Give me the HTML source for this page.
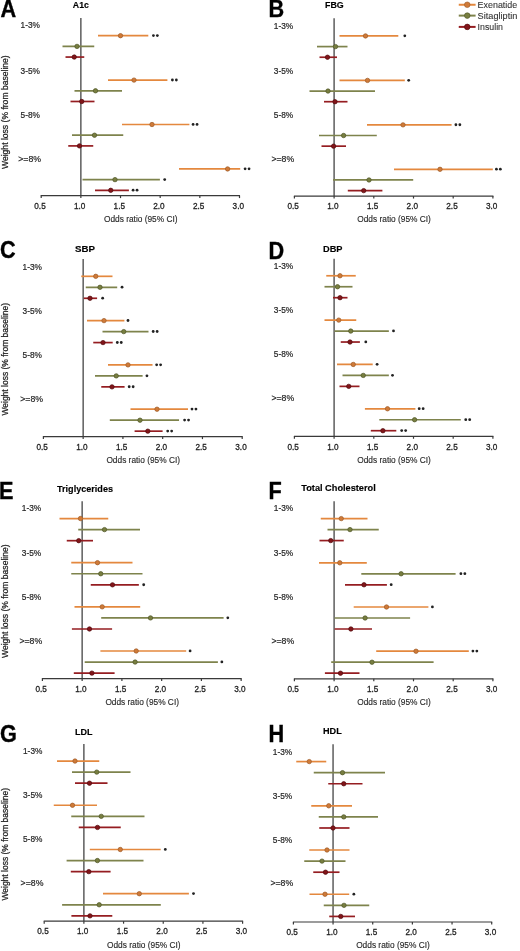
<!DOCTYPE html>
<html><head><meta charset="utf-8"><style>
html,body{margin:0;padding:0;background:#fff;}
svg{display:block;will-change:transform;}
text{font-family:"Liberation Sans", sans-serif;}
.let{font-size:22.6px;font-weight:bold;fill:#000;stroke:#000;stroke-width:0.35;}
.tit{font-size:9.6px;font-weight:bold;fill:#000;stroke:#000;stroke-width:0.15;}
.row{font-size:9.8px;fill:#262626;stroke:#262626;stroke-width:0.22;text-anchor:end;}
.yl{font-size:9.4px;fill:#222;stroke:#222;stroke-width:0.25;}
.tk{font-size:9.3px;fill:#222;stroke:#222;stroke-width:0.3;text-anchor:middle;}
.od{font-size:9px;fill:#2a2a2a;stroke:#2a2a2a;stroke-width:0.15;text-anchor:middle;}
.leg{font-size:9.6px;fill:#333;stroke:#333;stroke-width:0.1;}
.vl{stroke:#575757;stroke-width:1.45;}
.ax{stroke:#3a3a3a;stroke-width:1.2;}
.bar{stroke-width:1.7;}
</style></head><body>
<svg width="520" height="951" viewBox="0 0 520 951">
<text transform="translate(0.4,16.6) scale(0.96,1.065)" x="0" y="0" class="let">A</text>
<text x="72.8" y="8.25" class="tit" textLength="16.10" lengthAdjust="spacingAndGlyphs">A1c</text>
<text x="40.00" y="28.30" class="row" textLength="19.4" lengthAdjust="spacingAndGlyphs">1-3%</text>
<text x="40.00" y="73.80" class="row" textLength="19.4" lengthAdjust="spacingAndGlyphs">3-5%</text>
<text x="40.00" y="117.60" class="row" textLength="19.4" lengthAdjust="spacingAndGlyphs">5-8%</text>
<text x="41.00" y="162.10" class="row" textLength="22.8" lengthAdjust="spacingAndGlyphs">&gt;=8%</text>
<text transform="translate(7.8,169) rotate(-90)" x="0" y="0" class="yl" textLength="113.70" lengthAdjust="spacingAndGlyphs">Weight loss (% from baseline)</text>
<line x1="80.86" y1="18.0" x2="80.86" y2="195.6" class="vl"/>
<line x1="40.70" y1="195.6" x2="240.00" y2="195.6" class="ax"/>
<line x1="41.20" y1="195.6" x2="41.20" y2="198.1" class="ax"/>
<text x="40.00" y="208.80" class="tk" textLength="11.4" lengthAdjust="spacingAndGlyphs">0.5</text>
<line x1="80.86" y1="195.6" x2="80.86" y2="198.1" class="ax"/>
<text x="79.66" y="208.80" class="tk" textLength="11.4" lengthAdjust="spacingAndGlyphs">1.0</text>
<line x1="120.52" y1="195.6" x2="120.52" y2="198.1" class="ax"/>
<text x="119.32" y="208.80" class="tk" textLength="11.4" lengthAdjust="spacingAndGlyphs">1.5</text>
<line x1="160.18" y1="195.6" x2="160.18" y2="198.1" class="ax"/>
<text x="158.98" y="208.80" class="tk" textLength="11.4" lengthAdjust="spacingAndGlyphs">2.0</text>
<line x1="199.84" y1="195.6" x2="199.84" y2="198.1" class="ax"/>
<text x="198.64" y="208.80" class="tk" textLength="11.4" lengthAdjust="spacingAndGlyphs">2.5</text>
<line x1="239.50" y1="195.6" x2="239.50" y2="198.1" class="ax"/>
<text x="238.30" y="208.80" class="tk" textLength="11.4" lengthAdjust="spacingAndGlyphs">3.0</text>
<text x="140.75" y="222.00" class="od" textLength="73.6" lengthAdjust="spacingAndGlyphs">Odds ratio (95% CI)</text>
<line x1="98" y1="35.69" x2="148.3" y2="35.69" stroke="#E4883E" class="bar"/>
<circle cx="120.5" cy="35.69" r="2.2" fill="#CF7A38" stroke="#9C5A28" stroke-width="0.7"/>
<circle cx="153.40" cy="35.59" r="1.4" fill="#222"/>
<circle cx="157.35" cy="35.59" r="1.4" fill="#222"/>
<line x1="62.5" y1="46.38" x2="94.25" y2="46.38" stroke="#7E834C" class="bar"/>
<circle cx="77" cy="46.38" r="2.2" fill="#787E40" stroke="#4E5426" stroke-width="0.7"/>
<line x1="65.5" y1="57.06" x2="84.25" y2="57.06" stroke="#951D21" class="bar"/>
<circle cx="74.25" cy="57.06" r="2.2" fill="#821519" stroke="#500B0E" stroke-width="0.7"/>
<line x1="108" y1="80.1" x2="167.4" y2="80.1" stroke="#E4883E" class="bar"/>
<circle cx="134" cy="80.1" r="2.2" fill="#CF7A38" stroke="#9C5A28" stroke-width="0.7"/>
<circle cx="172.40" cy="80.00" r="1.4" fill="#222"/>
<circle cx="176.35" cy="80.00" r="1.4" fill="#222"/>
<line x1="74.5" y1="90.79" x2="122" y2="90.79" stroke="#7E834C" class="bar"/>
<circle cx="95.5" cy="90.79" r="2.2" fill="#787E40" stroke="#4E5426" stroke-width="0.7"/>
<line x1="70.5" y1="101.48" x2="94.5" y2="101.48" stroke="#951D21" class="bar"/>
<circle cx="81.75" cy="101.48" r="2.2" fill="#821519" stroke="#500B0E" stroke-width="0.7"/>
<line x1="122" y1="124.52" x2="189.4" y2="124.52" stroke="#E4883E" class="bar"/>
<circle cx="152" cy="124.52" r="2.2" fill="#CF7A38" stroke="#9C5A28" stroke-width="0.7"/>
<circle cx="193.10" cy="124.42" r="1.4" fill="#222"/>
<circle cx="197.05" cy="124.42" r="1.4" fill="#222"/>
<line x1="72" y1="135.21" x2="123.25" y2="135.21" stroke="#7E834C" class="bar"/>
<circle cx="94.5" cy="135.21" r="2.2" fill="#787E40" stroke="#4E5426" stroke-width="0.7"/>
<line x1="68.25" y1="145.9" x2="93.25" y2="145.9" stroke="#951D21" class="bar"/>
<circle cx="79.5" cy="145.9" r="2.2" fill="#821519" stroke="#500B0E" stroke-width="0.7"/>
<line x1="179" y1="168.94" x2="240.2" y2="168.94" stroke="#E4883E" class="bar"/>
<circle cx="227.6" cy="168.94" r="2.2" fill="#CF7A38" stroke="#9C5A28" stroke-width="0.7"/>
<circle cx="245.10" cy="168.84" r="1.4" fill="#222"/>
<circle cx="249.05" cy="168.84" r="1.4" fill="#222"/>
<line x1="82.5" y1="179.63" x2="159.9" y2="179.63" stroke="#7E834C" class="bar"/>
<circle cx="115" cy="179.63" r="2.2" fill="#787E40" stroke="#4E5426" stroke-width="0.7"/>
<circle cx="164.70" cy="179.53" r="1.4" fill="#222"/>
<line x1="95" y1="190.31" x2="128.9" y2="190.31" stroke="#951D21" class="bar"/>
<circle cx="110.75" cy="190.31" r="2.2" fill="#821519" stroke="#500B0E" stroke-width="0.7"/>
<circle cx="133.10" cy="190.21" r="1.4" fill="#222"/>
<circle cx="137.05" cy="190.21" r="1.4" fill="#222"/>
<text transform="translate(268.4,16.7) scale(0.96,1.065)" x="0" y="0" class="let">B</text>
<text x="325" y="8.25" class="tit" textLength="18.75" lengthAdjust="spacingAndGlyphs">FBG</text>
<text x="293.20" y="29.20" class="row" textLength="19.4" lengthAdjust="spacingAndGlyphs">1-3%</text>
<text x="293.20" y="73.80" class="row" textLength="19.4" lengthAdjust="spacingAndGlyphs">3-5%</text>
<text x="293.20" y="118.00" class="row" textLength="19.4" lengthAdjust="spacingAndGlyphs">5-8%</text>
<text x="294.20" y="161.60" class="row" textLength="22.8" lengthAdjust="spacingAndGlyphs">&gt;=8%</text>
<line x1="334.10" y1="18.3" x2="334.10" y2="196.05" class="vl"/>
<line x1="293.90" y1="196.05" x2="493.40" y2="196.05" class="ax"/>
<line x1="294.40" y1="196.05" x2="294.40" y2="198.55" class="ax"/>
<text x="293.20" y="209.25" class="tk" textLength="11.4" lengthAdjust="spacingAndGlyphs">0.5</text>
<line x1="334.10" y1="196.05" x2="334.10" y2="198.55" class="ax"/>
<text x="332.90" y="209.25" class="tk" textLength="11.4" lengthAdjust="spacingAndGlyphs">1.0</text>
<line x1="373.80" y1="196.05" x2="373.80" y2="198.55" class="ax"/>
<text x="372.60" y="209.25" class="tk" textLength="11.4" lengthAdjust="spacingAndGlyphs">1.5</text>
<line x1="413.50" y1="196.05" x2="413.50" y2="198.55" class="ax"/>
<text x="412.30" y="209.25" class="tk" textLength="11.4" lengthAdjust="spacingAndGlyphs">2.0</text>
<line x1="453.20" y1="196.05" x2="453.20" y2="198.55" class="ax"/>
<text x="452.00" y="209.25" class="tk" textLength="11.4" lengthAdjust="spacingAndGlyphs">2.5</text>
<line x1="492.90" y1="196.05" x2="492.90" y2="198.55" class="ax"/>
<text x="491.70" y="209.25" class="tk" textLength="11.4" lengthAdjust="spacingAndGlyphs">3.0</text>
<text x="394.05" y="222.45" class="od" textLength="73.6" lengthAdjust="spacingAndGlyphs">Odds ratio (95% CI)</text>
<line x1="339.5" y1="35.94" x2="398.3" y2="35.94" stroke="#E4883E" class="bar"/>
<circle cx="365.5" cy="35.94" r="2.2" fill="#CF7A38" stroke="#9C5A28" stroke-width="0.7"/>
<circle cx="404.80" cy="35.84" r="1.4" fill="#222"/>
<line x1="317" y1="46.59" x2="347.5" y2="46.59" stroke="#7E834C" class="bar"/>
<circle cx="335.5" cy="46.59" r="2.2" fill="#787E40" stroke="#4E5426" stroke-width="0.7"/>
<line x1="319.5" y1="57.24" x2="337" y2="57.24" stroke="#951D21" class="bar"/>
<circle cx="327.5" cy="57.24" r="2.2" fill="#821519" stroke="#500B0E" stroke-width="0.7"/>
<line x1="339.5" y1="80.4" x2="404.8" y2="80.4" stroke="#E4883E" class="bar"/>
<circle cx="367.5" cy="80.4" r="2.2" fill="#CF7A38" stroke="#9C5A28" stroke-width="0.7"/>
<circle cx="408.70" cy="80.30" r="1.4" fill="#222"/>
<line x1="309.5" y1="91.05" x2="375" y2="91.05" stroke="#7E834C" class="bar"/>
<circle cx="328" cy="91.05" r="2.2" fill="#787E40" stroke="#4E5426" stroke-width="0.7"/>
<line x1="324" y1="101.7" x2="347.5" y2="101.7" stroke="#951D21" class="bar"/>
<circle cx="335" cy="101.7" r="2.2" fill="#821519" stroke="#500B0E" stroke-width="0.7"/>
<line x1="367" y1="124.86" x2="451.6" y2="124.86" stroke="#E4883E" class="bar"/>
<circle cx="403" cy="124.86" r="2.2" fill="#CF7A38" stroke="#9C5A28" stroke-width="0.7"/>
<circle cx="455.90" cy="124.76" r="1.4" fill="#222"/>
<circle cx="459.85" cy="124.76" r="1.4" fill="#222"/>
<line x1="319" y1="135.51" x2="376.8" y2="135.51" stroke="#7E834C" class="bar"/>
<circle cx="343.6" cy="135.51" r="2.2" fill="#787E40" stroke="#4E5426" stroke-width="0.7"/>
<line x1="321.5" y1="146.16" x2="346" y2="146.16" stroke="#951D21" class="bar"/>
<circle cx="333.6" cy="146.16" r="2.2" fill="#821519" stroke="#500B0E" stroke-width="0.7"/>
<line x1="394" y1="169.32" x2="492.8" y2="169.32" stroke="#E4883E" class="bar"/>
<circle cx="440" cy="169.32" r="2.2" fill="#CF7A38" stroke="#9C5A28" stroke-width="0.7"/>
<circle cx="496.40" cy="169.22" r="1.4" fill="#222"/>
<circle cx="500.35" cy="169.22" r="1.4" fill="#222"/>
<line x1="333" y1="179.97" x2="413.2" y2="179.97" stroke="#7E834C" class="bar"/>
<circle cx="369" cy="179.97" r="2.2" fill="#787E40" stroke="#4E5426" stroke-width="0.7"/>
<line x1="347.8" y1="190.62" x2="382.4" y2="190.62" stroke="#951D21" class="bar"/>
<circle cx="363.7" cy="190.62" r="2.2" fill="#821519" stroke="#500B0E" stroke-width="0.7"/>
<text transform="translate(0.0,258.3) scale(0.96,1.065)" x="0" y="0" class="let">C</text>
<text x="75" y="252.10" class="tit" textLength="20.00" lengthAdjust="spacingAndGlyphs">SBP</text>
<text x="42.00" y="269.55" class="row" textLength="19.4" lengthAdjust="spacingAndGlyphs">1-3%</text>
<text x="42.00" y="313.60" class="row" textLength="19.4" lengthAdjust="spacingAndGlyphs">3-5%</text>
<text x="42.00" y="358.20" class="row" textLength="19.4" lengthAdjust="spacingAndGlyphs">5-8%</text>
<text x="43.00" y="401.90" class="row" textLength="22.8" lengthAdjust="spacingAndGlyphs">&gt;=8%</text>
<text transform="translate(7.8,415.6) rotate(-90)" x="0" y="0" class="yl" textLength="112.70" lengthAdjust="spacingAndGlyphs">Weight loss (% from baseline)</text>
<line x1="83.16" y1="259.1" x2="83.16" y2="436.6" class="vl"/>
<line x1="42.90" y1="436.6" x2="242.70" y2="436.6" class="ax"/>
<line x1="43.40" y1="436.6" x2="43.40" y2="439.1" class="ax"/>
<text x="42.20" y="449.80" class="tk" textLength="11.4" lengthAdjust="spacingAndGlyphs">0.5</text>
<line x1="83.16" y1="436.6" x2="83.16" y2="439.1" class="ax"/>
<text x="81.96" y="449.80" class="tk" textLength="11.4" lengthAdjust="spacingAndGlyphs">1.0</text>
<line x1="122.92" y1="436.6" x2="122.92" y2="439.1" class="ax"/>
<text x="121.72" y="449.80" class="tk" textLength="11.4" lengthAdjust="spacingAndGlyphs">1.5</text>
<line x1="162.68" y1="436.6" x2="162.68" y2="439.1" class="ax"/>
<text x="161.48" y="449.80" class="tk" textLength="11.4" lengthAdjust="spacingAndGlyphs">2.0</text>
<line x1="202.44" y1="436.6" x2="202.44" y2="439.1" class="ax"/>
<text x="201.24" y="449.80" class="tk" textLength="11.4" lengthAdjust="spacingAndGlyphs">2.5</text>
<line x1="242.20" y1="436.6" x2="242.20" y2="439.1" class="ax"/>
<text x="241.00" y="449.80" class="tk" textLength="11.4" lengthAdjust="spacingAndGlyphs">3.0</text>
<text x="143.20" y="463.00" class="od" textLength="73.6" lengthAdjust="spacingAndGlyphs">Odds ratio (95% CI)</text>
<line x1="81.25" y1="276.32" x2="112.5" y2="276.32" stroke="#E4883E" class="bar"/>
<circle cx="95.75" cy="276.32" r="2.2" fill="#CF7A38" stroke="#9C5A28" stroke-width="0.7"/>
<line x1="85.75" y1="287.3" x2="117.2" y2="287.3" stroke="#7E834C" class="bar"/>
<circle cx="100" cy="287.3" r="2.2" fill="#787E40" stroke="#4E5426" stroke-width="0.7"/>
<circle cx="122.05" cy="287.20" r="1.4" fill="#222"/>
<line x1="83.75" y1="298.28" x2="97.1" y2="298.28" stroke="#951D21" class="bar"/>
<circle cx="90" cy="298.28" r="2.2" fill="#821519" stroke="#500B0E" stroke-width="0.7"/>
<circle cx="102.65" cy="298.18" r="1.4" fill="#222"/>
<line x1="87" y1="320.62" x2="124.4" y2="320.62" stroke="#E4883E" class="bar"/>
<circle cx="104" cy="320.62" r="2.2" fill="#CF7A38" stroke="#9C5A28" stroke-width="0.7"/>
<circle cx="128.00" cy="320.52" r="1.4" fill="#222"/>
<line x1="102.5" y1="331.6" x2="148.5" y2="331.6" stroke="#7E834C" class="bar"/>
<circle cx="123.75" cy="331.6" r="2.2" fill="#787E40" stroke="#4E5426" stroke-width="0.7"/>
<circle cx="153.20" cy="331.50" r="1.4" fill="#222"/>
<circle cx="157.15" cy="331.50" r="1.4" fill="#222"/>
<line x1="93.25" y1="342.58" x2="112.7" y2="342.58" stroke="#951D21" class="bar"/>
<circle cx="103" cy="342.58" r="2.2" fill="#821519" stroke="#500B0E" stroke-width="0.7"/>
<circle cx="117.30" cy="342.48" r="1.4" fill="#222"/>
<circle cx="121.25" cy="342.48" r="1.4" fill="#222"/>
<line x1="108" y1="364.91" x2="152.5" y2="364.91" stroke="#E4883E" class="bar"/>
<circle cx="128" cy="364.91" r="2.2" fill="#CF7A38" stroke="#9C5A28" stroke-width="0.7"/>
<circle cx="156.65" cy="364.81" r="1.4" fill="#222"/>
<circle cx="160.60" cy="364.81" r="1.4" fill="#222"/>
<line x1="95" y1="375.89" x2="142.6" y2="375.89" stroke="#7E834C" class="bar"/>
<circle cx="116.25" cy="375.89" r="2.2" fill="#787E40" stroke="#4E5426" stroke-width="0.7"/>
<circle cx="146.95" cy="375.79" r="1.4" fill="#222"/>
<line x1="101.25" y1="386.87" x2="124.6" y2="386.87" stroke="#951D21" class="bar"/>
<circle cx="112" cy="386.87" r="2.2" fill="#821519" stroke="#500B0E" stroke-width="0.7"/>
<circle cx="129.20" cy="386.77" r="1.4" fill="#222"/>
<circle cx="133.15" cy="386.77" r="1.4" fill="#222"/>
<line x1="130.5" y1="409.21" x2="188.0" y2="409.21" stroke="#E4883E" class="bar"/>
<circle cx="157" cy="409.21" r="2.2" fill="#CF7A38" stroke="#9C5A28" stroke-width="0.7"/>
<circle cx="192.00" cy="409.11" r="1.4" fill="#222"/>
<circle cx="195.95" cy="409.11" r="1.4" fill="#222"/>
<line x1="109.8" y1="420.19" x2="179.05" y2="420.19" stroke="#7E834C" class="bar"/>
<circle cx="140" cy="420.19" r="2.2" fill="#787E40" stroke="#4E5426" stroke-width="0.7"/>
<circle cx="184.60" cy="420.09" r="1.4" fill="#222"/>
<circle cx="188.55" cy="420.09" r="1.4" fill="#222"/>
<line x1="134.6" y1="431.17" x2="162.6" y2="431.17" stroke="#951D21" class="bar"/>
<circle cx="147.8" cy="431.17" r="2.2" fill="#821519" stroke="#500B0E" stroke-width="0.7"/>
<circle cx="167.70" cy="431.07" r="1.4" fill="#222"/>
<circle cx="171.65" cy="431.07" r="1.4" fill="#222"/>
<text transform="translate(268.6,258.6) scale(0.96,1.065)" x="0" y="0" class="let">D</text>
<text x="323" y="251.60" class="tit" textLength="19.50" lengthAdjust="spacingAndGlyphs">DBP</text>
<text x="293.20" y="268.80" class="row" textLength="19.4" lengthAdjust="spacingAndGlyphs">1-3%</text>
<text x="293.20" y="313.00" class="row" textLength="19.4" lengthAdjust="spacingAndGlyphs">3-5%</text>
<text x="293.20" y="356.80" class="row" textLength="19.4" lengthAdjust="spacingAndGlyphs">5-8%</text>
<text x="294.20" y="401.00" class="row" textLength="22.8" lengthAdjust="spacingAndGlyphs">&gt;=8%</text>
<line x1="334.10" y1="258.65" x2="334.10" y2="436.3" class="vl"/>
<line x1="293.90" y1="436.3" x2="493.40" y2="436.3" class="ax"/>
<line x1="294.40" y1="436.3" x2="294.40" y2="438.8" class="ax"/>
<text x="293.20" y="449.50" class="tk" textLength="11.4" lengthAdjust="spacingAndGlyphs">0.5</text>
<line x1="334.10" y1="436.3" x2="334.10" y2="438.8" class="ax"/>
<text x="332.90" y="449.50" class="tk" textLength="11.4" lengthAdjust="spacingAndGlyphs">1.0</text>
<line x1="373.80" y1="436.3" x2="373.80" y2="438.8" class="ax"/>
<text x="372.60" y="449.50" class="tk" textLength="11.4" lengthAdjust="spacingAndGlyphs">1.5</text>
<line x1="413.50" y1="436.3" x2="413.50" y2="438.8" class="ax"/>
<text x="412.30" y="449.50" class="tk" textLength="11.4" lengthAdjust="spacingAndGlyphs">2.0</text>
<line x1="453.20" y1="436.3" x2="453.20" y2="438.8" class="ax"/>
<text x="452.00" y="449.50" class="tk" textLength="11.4" lengthAdjust="spacingAndGlyphs">2.5</text>
<line x1="492.90" y1="436.3" x2="492.90" y2="438.8" class="ax"/>
<text x="491.70" y="449.50" class="tk" textLength="11.4" lengthAdjust="spacingAndGlyphs">3.0</text>
<text x="394.05" y="462.70" class="od" textLength="73.6" lengthAdjust="spacingAndGlyphs">Odds ratio (95% CI)</text>
<line x1="326.25" y1="275.77" x2="355.75" y2="275.77" stroke="#E4883E" class="bar"/>
<circle cx="340" cy="275.77" r="2.2" fill="#CF7A38" stroke="#9C5A28" stroke-width="0.7"/>
<line x1="324.5" y1="286.74" x2="352.5" y2="286.74" stroke="#7E834C" class="bar"/>
<circle cx="337.5" cy="286.74" r="2.2" fill="#787E40" stroke="#4E5426" stroke-width="0.7"/>
<line x1="333" y1="297.7" x2="347.5" y2="297.7" stroke="#951D21" class="bar"/>
<circle cx="340" cy="297.7" r="2.2" fill="#821519" stroke="#500B0E" stroke-width="0.7"/>
<line x1="324.5" y1="320.11" x2="356.25" y2="320.11" stroke="#E4883E" class="bar"/>
<circle cx="338.75" cy="320.11" r="2.2" fill="#CF7A38" stroke="#9C5A28" stroke-width="0.7"/>
<line x1="334.5" y1="331.07" x2="388.85" y2="331.07" stroke="#7E834C" class="bar"/>
<circle cx="350.75" cy="331.07" r="2.2" fill="#787E40" stroke="#4E5426" stroke-width="0.7"/>
<circle cx="393.50" cy="330.97" r="1.4" fill="#222"/>
<line x1="340.75" y1="342.03" x2="359.9" y2="342.03" stroke="#951D21" class="bar"/>
<circle cx="350" cy="342.03" r="2.2" fill="#821519" stroke="#500B0E" stroke-width="0.7"/>
<circle cx="365.80" cy="341.93" r="1.4" fill="#222"/>
<line x1="337" y1="364.44" x2="372.7" y2="364.44" stroke="#E4883E" class="bar"/>
<circle cx="353.25" cy="364.44" r="2.2" fill="#CF7A38" stroke="#9C5A28" stroke-width="0.7"/>
<circle cx="377.10" cy="364.34" r="1.4" fill="#222"/>
<line x1="342.5" y1="375.41" x2="388.85" y2="375.41" stroke="#7E834C" class="bar"/>
<circle cx="363.25" cy="375.41" r="2.2" fill="#787E40" stroke="#4E5426" stroke-width="0.7"/>
<circle cx="392.50" cy="375.31" r="1.4" fill="#222"/>
<line x1="339.5" y1="386.37" x2="359.5" y2="386.37" stroke="#951D21" class="bar"/>
<circle cx="348.75" cy="386.37" r="2.2" fill="#821519" stroke="#500B0E" stroke-width="0.7"/>
<line x1="364.9" y1="408.78" x2="415.4" y2="408.78" stroke="#E4883E" class="bar"/>
<circle cx="387.5" cy="408.78" r="2.2" fill="#CF7A38" stroke="#9C5A28" stroke-width="0.7"/>
<circle cx="419.20" cy="408.68" r="1.4" fill="#222"/>
<circle cx="423.15" cy="408.68" r="1.4" fill="#222"/>
<line x1="379.3" y1="419.74" x2="460.8" y2="419.74" stroke="#7E834C" class="bar"/>
<circle cx="414.6" cy="419.74" r="2.2" fill="#787E40" stroke="#4E5426" stroke-width="0.7"/>
<circle cx="465.75" cy="419.64" r="1.4" fill="#222"/>
<circle cx="469.70" cy="419.64" r="1.4" fill="#222"/>
<line x1="370.8" y1="430.7" x2="396.3" y2="430.7" stroke="#951D21" class="bar"/>
<circle cx="382.9" cy="430.7" r="2.2" fill="#821519" stroke="#500B0E" stroke-width="0.7"/>
<circle cx="401.70" cy="430.60" r="1.4" fill="#222"/>
<circle cx="405.65" cy="430.60" r="1.4" fill="#222"/>
<text transform="translate(-1.0,498.90000000000003) scale(0.96,1.065)" x="0" y="0" class="let">E</text>
<text x="57" y="492.10" class="tit" textLength="56.00" lengthAdjust="spacingAndGlyphs">Triglycerides</text>
<text x="41.20" y="511.05" class="row" textLength="19.4" lengthAdjust="spacingAndGlyphs">1-3%</text>
<text x="41.20" y="555.90" class="row" textLength="19.4" lengthAdjust="spacingAndGlyphs">3-5%</text>
<text x="41.20" y="600.10" class="row" textLength="19.4" lengthAdjust="spacingAndGlyphs">5-8%</text>
<text x="42.20" y="644.30" class="row" textLength="22.8" lengthAdjust="spacingAndGlyphs">&gt;=8%</text>
<text transform="translate(7.8,658) rotate(-90)" x="0" y="0" class="yl" textLength="113.60" lengthAdjust="spacingAndGlyphs">Weight loss (% from baseline)</text>
<line x1="82.15" y1="501.2" x2="82.15" y2="678.6" class="vl"/>
<line x1="41.90" y1="678.6" x2="241.65" y2="678.6" class="ax"/>
<line x1="42.40" y1="678.6" x2="42.40" y2="681.1" class="ax"/>
<text x="41.20" y="691.80" class="tk" textLength="11.4" lengthAdjust="spacingAndGlyphs">0.5</text>
<line x1="82.15" y1="678.6" x2="82.15" y2="681.1" class="ax"/>
<text x="80.95" y="691.80" class="tk" textLength="11.4" lengthAdjust="spacingAndGlyphs">1.0</text>
<line x1="121.90" y1="678.6" x2="121.90" y2="681.1" class="ax"/>
<text x="120.70" y="691.80" class="tk" textLength="11.4" lengthAdjust="spacingAndGlyphs">1.5</text>
<line x1="161.65" y1="678.6" x2="161.65" y2="681.1" class="ax"/>
<text x="160.45" y="691.80" class="tk" textLength="11.4" lengthAdjust="spacingAndGlyphs">2.0</text>
<line x1="201.40" y1="678.6" x2="201.40" y2="681.1" class="ax"/>
<text x="200.20" y="691.80" class="tk" textLength="11.4" lengthAdjust="spacingAndGlyphs">2.5</text>
<line x1="241.15" y1="678.6" x2="241.15" y2="681.1" class="ax"/>
<text x="239.95" y="691.80" class="tk" textLength="11.4" lengthAdjust="spacingAndGlyphs">3.0</text>
<text x="142.18" y="705.00" class="od" textLength="73.6" lengthAdjust="spacingAndGlyphs">Odds ratio (95% CI)</text>
<line x1="59.5" y1="518.53" x2="108.25" y2="518.53" stroke="#E4883E" class="bar"/>
<circle cx="80.5" cy="518.53" r="2.2" fill="#CF7A38" stroke="#9C5A28" stroke-width="0.7"/>
<line x1="78.25" y1="529.61" x2="140" y2="529.61" stroke="#7E834C" class="bar"/>
<circle cx="104.5" cy="529.61" r="2.2" fill="#787E40" stroke="#4E5426" stroke-width="0.7"/>
<line x1="66.75" y1="540.68" x2="93" y2="540.68" stroke="#951D21" class="bar"/>
<circle cx="78.75" cy="540.68" r="2.2" fill="#821519" stroke="#500B0E" stroke-width="0.7"/>
<line x1="71.25" y1="562.68" x2="132.5" y2="562.68" stroke="#E4883E" class="bar"/>
<circle cx="97.5" cy="562.68" r="2.2" fill="#CF7A38" stroke="#9C5A28" stroke-width="0.7"/>
<line x1="71.25" y1="573.76" x2="142.5" y2="573.76" stroke="#7E834C" class="bar"/>
<circle cx="100.75" cy="573.76" r="2.2" fill="#787E40" stroke="#4E5426" stroke-width="0.7"/>
<line x1="90.75" y1="584.83" x2="138.85" y2="584.83" stroke="#951D21" class="bar"/>
<circle cx="112.5" cy="584.83" r="2.2" fill="#821519" stroke="#500B0E" stroke-width="0.7"/>
<circle cx="143.70" cy="584.73" r="1.4" fill="#222"/>
<line x1="74.5" y1="606.83" x2="140.2" y2="606.83" stroke="#E4883E" class="bar"/>
<circle cx="102.2" cy="606.83" r="2.2" fill="#CF7A38" stroke="#9C5A28" stroke-width="0.7"/>
<line x1="101.2" y1="617.91" x2="223.6" y2="617.91" stroke="#7E834C" class="bar"/>
<circle cx="150.5" cy="617.91" r="2.2" fill="#787E40" stroke="#4E5426" stroke-width="0.7"/>
<circle cx="227.80" cy="617.81" r="1.4" fill="#222"/>
<line x1="71.9" y1="628.98" x2="112.1" y2="628.98" stroke="#951D21" class="bar"/>
<circle cx="89.5" cy="628.98" r="2.2" fill="#821519" stroke="#500B0E" stroke-width="0.7"/>
<line x1="100.4" y1="650.98" x2="186.2" y2="650.98" stroke="#E4883E" class="bar"/>
<circle cx="136.2" cy="650.98" r="2.2" fill="#CF7A38" stroke="#9C5A28" stroke-width="0.7"/>
<circle cx="190.10" cy="650.88" r="1.4" fill="#222"/>
<line x1="84.7" y1="662.06" x2="217.9" y2="662.06" stroke="#7E834C" class="bar"/>
<circle cx="135.1" cy="662.06" r="2.2" fill="#787E40" stroke="#4E5426" stroke-width="0.7"/>
<circle cx="221.85" cy="661.96" r="1.4" fill="#222"/>
<line x1="73.8" y1="673.13" x2="114.6" y2="673.13" stroke="#951D21" class="bar"/>
<circle cx="91.9" cy="673.13" r="2.2" fill="#821519" stroke="#500B0E" stroke-width="0.7"/>
<text transform="translate(268.5,499.0) scale(0.96,1.065)" x="0" y="0" class="let">F</text>
<text x="301.25" y="491.10" class="tit" textLength="74.50" lengthAdjust="spacingAndGlyphs">Total Cholesterol</text>
<text x="293.20" y="511.20" class="row" textLength="19.4" lengthAdjust="spacingAndGlyphs">1-3%</text>
<text x="293.20" y="555.80" class="row" textLength="19.4" lengthAdjust="spacingAndGlyphs">3-5%</text>
<text x="293.20" y="599.60" class="row" textLength="19.4" lengthAdjust="spacingAndGlyphs">5-8%</text>
<text x="294.20" y="643.60" class="row" textLength="22.8" lengthAdjust="spacingAndGlyphs">&gt;=8%</text>
<line x1="334.10" y1="501.2" x2="334.10" y2="678.8" class="vl"/>
<line x1="293.90" y1="678.8" x2="493.40" y2="678.8" class="ax"/>
<line x1="294.40" y1="678.8" x2="294.40" y2="681.3" class="ax"/>
<text x="293.20" y="692.00" class="tk" textLength="11.4" lengthAdjust="spacingAndGlyphs">0.5</text>
<line x1="334.10" y1="678.8" x2="334.10" y2="681.3" class="ax"/>
<text x="332.90" y="692.00" class="tk" textLength="11.4" lengthAdjust="spacingAndGlyphs">1.0</text>
<line x1="373.80" y1="678.8" x2="373.80" y2="681.3" class="ax"/>
<text x="372.60" y="692.00" class="tk" textLength="11.4" lengthAdjust="spacingAndGlyphs">1.5</text>
<line x1="413.50" y1="678.8" x2="413.50" y2="681.3" class="ax"/>
<text x="412.30" y="692.00" class="tk" textLength="11.4" lengthAdjust="spacingAndGlyphs">2.0</text>
<line x1="453.20" y1="678.8" x2="453.20" y2="681.3" class="ax"/>
<text x="452.00" y="692.00" class="tk" textLength="11.4" lengthAdjust="spacingAndGlyphs">2.5</text>
<line x1="492.90" y1="678.8" x2="492.90" y2="681.3" class="ax"/>
<text x="491.70" y="692.00" class="tk" textLength="11.4" lengthAdjust="spacingAndGlyphs">3.0</text>
<text x="394.05" y="705.20" class="od" textLength="73.6" lengthAdjust="spacingAndGlyphs">Odds ratio (95% CI)</text>
<line x1="320.75" y1="518.59" x2="367.5" y2="518.59" stroke="#E4883E" class="bar"/>
<circle cx="341.25" cy="518.59" r="2.2" fill="#CF7A38" stroke="#9C5A28" stroke-width="0.7"/>
<line x1="327.5" y1="529.59" x2="378.75" y2="529.59" stroke="#7E834C" class="bar"/>
<circle cx="350" cy="529.59" r="2.2" fill="#787E40" stroke="#4E5426" stroke-width="0.7"/>
<line x1="319.5" y1="540.58" x2="343.75" y2="540.58" stroke="#951D21" class="bar"/>
<circle cx="330.75" cy="540.58" r="2.2" fill="#821519" stroke="#500B0E" stroke-width="0.7"/>
<line x1="319" y1="562.8" x2="366.8" y2="562.8" stroke="#E4883E" class="bar"/>
<circle cx="339.8" cy="562.8" r="2.2" fill="#CF7A38" stroke="#9C5A28" stroke-width="0.7"/>
<line x1="361.3" y1="573.79" x2="455.6" y2="573.79" stroke="#7E834C" class="bar"/>
<circle cx="401.1" cy="573.79" r="2.2" fill="#787E40" stroke="#4E5426" stroke-width="0.7"/>
<circle cx="460.90" cy="573.69" r="1.4" fill="#222"/>
<circle cx="464.85" cy="573.69" r="1.4" fill="#222"/>
<line x1="345" y1="584.79" x2="386.9" y2="584.79" stroke="#951D21" class="bar"/>
<circle cx="364" cy="584.79" r="2.2" fill="#821519" stroke="#500B0E" stroke-width="0.7"/>
<circle cx="391.20" cy="584.69" r="1.4" fill="#222"/>
<line x1="353.7" y1="607.0" x2="428.4" y2="607.0" stroke="#E4883E" class="bar"/>
<circle cx="386.5" cy="607.0" r="2.2" fill="#CF7A38" stroke="#9C5A28" stroke-width="0.7"/>
<circle cx="432.40" cy="606.90" r="1.4" fill="#222"/>
<line x1="334.6" y1="618.0" x2="410.1" y2="618.0" stroke="#7E834C" class="bar"/>
<circle cx="365.1" cy="618.0" r="2.2" fill="#787E40" stroke="#4E5426" stroke-width="0.7"/>
<line x1="334.6" y1="628.99" x2="372" y2="628.99" stroke="#951D21" class="bar"/>
<circle cx="350.9" cy="628.99" r="2.2" fill="#821519" stroke="#500B0E" stroke-width="0.7"/>
<line x1="376.2" y1="651.21" x2="468.8" y2="651.21" stroke="#E4883E" class="bar"/>
<circle cx="416" cy="651.21" r="2.2" fill="#CF7A38" stroke="#9C5A28" stroke-width="0.7"/>
<circle cx="472.90" cy="651.11" r="1.4" fill="#222"/>
<circle cx="476.85" cy="651.11" r="1.4" fill="#222"/>
<line x1="331.2" y1="662.2" x2="433.6" y2="662.2" stroke="#7E834C" class="bar"/>
<circle cx="372" cy="662.2" r="2.2" fill="#787E40" stroke="#4E5426" stroke-width="0.7"/>
<line x1="324.9" y1="673.2" x2="359.5" y2="673.2" stroke="#951D21" class="bar"/>
<circle cx="340.5" cy="673.2" r="2.2" fill="#821519" stroke="#500B0E" stroke-width="0.7"/>
<text transform="translate(0.0,742.0999999999999) scale(0.96,1.065)" x="0" y="0" class="let">G</text>
<text x="75" y="735.10" class="tit" textLength="17.50" lengthAdjust="spacingAndGlyphs">LDL</text>
<text x="42.40" y="754.05" class="row" textLength="19.4" lengthAdjust="spacingAndGlyphs">1-3%</text>
<text x="42.40" y="798.10" class="row" textLength="19.4" lengthAdjust="spacingAndGlyphs">3-5%</text>
<text x="42.40" y="841.90" class="row" textLength="19.4" lengthAdjust="spacingAndGlyphs">5-8%</text>
<text x="43.40" y="886.40" class="row" textLength="22.8" lengthAdjust="spacingAndGlyphs">&gt;=8%</text>
<text transform="translate(7.8,900.6) rotate(-90)" x="0" y="0" class="yl" textLength="112.70" lengthAdjust="spacingAndGlyphs">Weight loss (% from baseline)</text>
<line x1="83.88" y1="744.0" x2="83.88" y2="921.2" class="vl"/>
<line x1="43.70" y1="921.2" x2="243.10" y2="921.2" class="ax"/>
<line x1="44.20" y1="921.2" x2="44.20" y2="923.7" class="ax"/>
<text x="43.00" y="934.40" class="tk" textLength="11.4" lengthAdjust="spacingAndGlyphs">0.5</text>
<line x1="83.88" y1="921.2" x2="83.88" y2="923.7" class="ax"/>
<text x="82.68" y="934.40" class="tk" textLength="11.4" lengthAdjust="spacingAndGlyphs">1.0</text>
<line x1="123.56" y1="921.2" x2="123.56" y2="923.7" class="ax"/>
<text x="122.36" y="934.40" class="tk" textLength="11.4" lengthAdjust="spacingAndGlyphs">1.5</text>
<line x1="163.24" y1="921.2" x2="163.24" y2="923.7" class="ax"/>
<text x="162.04" y="934.40" class="tk" textLength="11.4" lengthAdjust="spacingAndGlyphs">2.0</text>
<line x1="202.92" y1="921.2" x2="202.92" y2="923.7" class="ax"/>
<text x="201.72" y="934.40" class="tk" textLength="11.4" lengthAdjust="spacingAndGlyphs">2.5</text>
<line x1="242.60" y1="921.2" x2="242.60" y2="923.7" class="ax"/>
<text x="241.40" y="934.40" class="tk" textLength="11.4" lengthAdjust="spacingAndGlyphs">3.0</text>
<text x="143.80" y="947.60" class="od" textLength="73.6" lengthAdjust="spacingAndGlyphs">Odds ratio (95% CI)</text>
<line x1="57" y1="761.04" x2="99.25" y2="761.04" stroke="#E4883E" class="bar"/>
<circle cx="75" cy="761.04" r="2.2" fill="#CF7A38" stroke="#9C5A28" stroke-width="0.7"/>
<line x1="72" y1="772.12" x2="130.5" y2="772.12" stroke="#7E834C" class="bar"/>
<circle cx="96.75" cy="772.12" r="2.2" fill="#787E40" stroke="#4E5426" stroke-width="0.7"/>
<line x1="75" y1="783.19" x2="107.5" y2="783.19" stroke="#951D21" class="bar"/>
<circle cx="89.5" cy="783.19" r="2.2" fill="#821519" stroke="#500B0E" stroke-width="0.7"/>
<line x1="53.75" y1="805.27" x2="97" y2="805.27" stroke="#E4883E" class="bar"/>
<circle cx="72.5" cy="805.27" r="2.2" fill="#CF7A38" stroke="#9C5A28" stroke-width="0.7"/>
<line x1="71.25" y1="816.34" x2="144.5" y2="816.34" stroke="#7E834C" class="bar"/>
<circle cx="101.25" cy="816.34" r="2.2" fill="#787E40" stroke="#4E5426" stroke-width="0.7"/>
<line x1="78.75" y1="827.42" x2="120.75" y2="827.42" stroke="#951D21" class="bar"/>
<circle cx="97.5" cy="827.42" r="2.2" fill="#821519" stroke="#500B0E" stroke-width="0.7"/>
<line x1="89.8" y1="849.49" x2="160.7" y2="849.49" stroke="#E4883E" class="bar"/>
<circle cx="120.3" cy="849.49" r="2.2" fill="#CF7A38" stroke="#9C5A28" stroke-width="0.7"/>
<circle cx="165.30" cy="849.39" r="1.4" fill="#222"/>
<line x1="66.6" y1="860.57" x2="143.5" y2="860.57" stroke="#7E834C" class="bar"/>
<circle cx="97.4" cy="860.57" r="2.2" fill="#787E40" stroke="#4E5426" stroke-width="0.7"/>
<line x1="70.8" y1="871.64" x2="110.6" y2="871.64" stroke="#951D21" class="bar"/>
<circle cx="88.8" cy="871.64" r="2.2" fill="#821519" stroke="#500B0E" stroke-width="0.7"/>
<line x1="103" y1="893.72" x2="188.9" y2="893.72" stroke="#E4883E" class="bar"/>
<circle cx="139.3" cy="893.72" r="2.2" fill="#CF7A38" stroke="#9C5A28" stroke-width="0.7"/>
<circle cx="193.50" cy="893.62" r="1.4" fill="#222"/>
<line x1="62.1" y1="904.79" x2="160.8" y2="904.79" stroke="#7E834C" class="bar"/>
<circle cx="99.2" cy="904.79" r="2.2" fill="#787E40" stroke="#4E5426" stroke-width="0.7"/>
<line x1="71.4" y1="915.87" x2="112.3" y2="915.87" stroke="#951D21" class="bar"/>
<circle cx="90" cy="915.87" r="2.2" fill="#821519" stroke="#500B0E" stroke-width="0.7"/>
<text transform="translate(268.6,741.6999999999999) scale(0.96,1.065)" x="0" y="0" class="let">H</text>
<text x="323" y="734.10" class="tit" textLength="18.75" lengthAdjust="spacingAndGlyphs">HDL</text>
<text x="292.20" y="754.60" class="row" textLength="19.4" lengthAdjust="spacingAndGlyphs">1-3%</text>
<text x="292.20" y="798.80" class="row" textLength="19.4" lengthAdjust="spacingAndGlyphs">3-5%</text>
<text x="292.20" y="842.60" class="row" textLength="19.4" lengthAdjust="spacingAndGlyphs">5-8%</text>
<text x="293.20" y="886.30" class="row" textLength="22.8" lengthAdjust="spacingAndGlyphs">&gt;=8%</text>
<line x1="333.06" y1="744.2" x2="333.06" y2="922.0" class="vl"/>
<line x1="292.90" y1="922.0" x2="492.20" y2="922.0" class="ax"/>
<line x1="293.40" y1="922.0" x2="293.40" y2="924.5" class="ax"/>
<text x="292.20" y="935.20" class="tk" textLength="11.4" lengthAdjust="spacingAndGlyphs">0.5</text>
<line x1="333.06" y1="922.0" x2="333.06" y2="924.5" class="ax"/>
<text x="331.86" y="935.20" class="tk" textLength="11.4" lengthAdjust="spacingAndGlyphs">1.0</text>
<line x1="372.72" y1="922.0" x2="372.72" y2="924.5" class="ax"/>
<text x="371.52" y="935.20" class="tk" textLength="11.4" lengthAdjust="spacingAndGlyphs">1.5</text>
<line x1="412.38" y1="922.0" x2="412.38" y2="924.5" class="ax"/>
<text x="411.18" y="935.20" class="tk" textLength="11.4" lengthAdjust="spacingAndGlyphs">2.0</text>
<line x1="452.04" y1="922.0" x2="452.04" y2="924.5" class="ax"/>
<text x="450.84" y="935.20" class="tk" textLength="11.4" lengthAdjust="spacingAndGlyphs">2.5</text>
<line x1="491.70" y1="922.0" x2="491.70" y2="924.5" class="ax"/>
<text x="490.50" y="935.20" class="tk" textLength="11.4" lengthAdjust="spacingAndGlyphs">3.0</text>
<text x="392.95" y="948.40" class="od" textLength="73.6" lengthAdjust="spacingAndGlyphs">Odds ratio (95% CI)</text>
<line x1="296.25" y1="761.58" x2="326.25" y2="761.58" stroke="#E4883E" class="bar"/>
<circle cx="309.25" cy="761.58" r="2.2" fill="#CF7A38" stroke="#9C5A28" stroke-width="0.7"/>
<line x1="313.75" y1="772.68" x2="385" y2="772.68" stroke="#7E834C" class="bar"/>
<circle cx="342.5" cy="772.68" r="2.2" fill="#787E40" stroke="#4E5426" stroke-width="0.7"/>
<line x1="328.25" y1="783.77" x2="362.5" y2="783.77" stroke="#951D21" class="bar"/>
<circle cx="343.75" cy="783.77" r="2.2" fill="#821519" stroke="#500B0E" stroke-width="0.7"/>
<line x1="311.25" y1="805.8" x2="352" y2="805.8" stroke="#E4883E" class="bar"/>
<circle cx="328.75" cy="805.8" r="2.2" fill="#CF7A38" stroke="#9C5A28" stroke-width="0.7"/>
<line x1="318.75" y1="816.89" x2="378" y2="816.89" stroke="#7E834C" class="bar"/>
<circle cx="343.75" cy="816.89" r="2.2" fill="#787E40" stroke="#4E5426" stroke-width="0.7"/>
<line x1="319.25" y1="827.99" x2="349.5" y2="827.99" stroke="#951D21" class="bar"/>
<circle cx="333" cy="827.99" r="2.2" fill="#821519" stroke="#500B0E" stroke-width="0.7"/>
<line x1="309.25" y1="850.01" x2="349.5" y2="850.01" stroke="#E4883E" class="bar"/>
<circle cx="327" cy="850.01" r="2.2" fill="#CF7A38" stroke="#9C5A28" stroke-width="0.7"/>
<line x1="304.25" y1="861.11" x2="345.5" y2="861.11" stroke="#7E834C" class="bar"/>
<circle cx="322" cy="861.11" r="2.2" fill="#787E40" stroke="#4E5426" stroke-width="0.7"/>
<line x1="313.25" y1="872.2" x2="339.5" y2="872.2" stroke="#951D21" class="bar"/>
<circle cx="325.5" cy="872.2" r="2.2" fill="#821519" stroke="#500B0E" stroke-width="0.7"/>
<line x1="309.5" y1="894.23" x2="349.2" y2="894.23" stroke="#E4883E" class="bar"/>
<circle cx="325" cy="894.23" r="2.2" fill="#CF7A38" stroke="#9C5A28" stroke-width="0.7"/>
<circle cx="353.85" cy="894.13" r="1.4" fill="#222"/>
<line x1="323.75" y1="905.33" x2="369.25" y2="905.33" stroke="#7E834C" class="bar"/>
<circle cx="344" cy="905.33" r="2.2" fill="#787E40" stroke="#4E5426" stroke-width="0.7"/>
<line x1="329.25" y1="916.42" x2="355" y2="916.42" stroke="#951D21" class="bar"/>
<circle cx="340.75" cy="916.42" r="2.2" fill="#821519" stroke="#500B0E" stroke-width="0.7"/>
<line x1="458.75" y1="4.75" x2="475.6" y2="4.75" stroke="#E4883E" stroke-width="2"/>
<circle cx="467.25" cy="4.75" r="2.8" fill="#CF7A38" stroke="#9C5A28" stroke-width="0.6"/>
<text x="477.6" y="7.95" class="leg" textLength="39.6" lengthAdjust="spacingAndGlyphs">Exenatide</text>
<line x1="458.75" y1="15.6" x2="475.6" y2="15.6" stroke="#7E834C" stroke-width="2"/>
<circle cx="467.25" cy="15.6" r="2.8" fill="#787E40" stroke="#4E5426" stroke-width="0.6"/>
<text x="477.6" y="18.80" class="leg" textLength="39.8" lengthAdjust="spacingAndGlyphs">Sitagliptin</text>
<line x1="458.75" y1="26.9" x2="475.6" y2="26.9" stroke="#951D21" stroke-width="2"/>
<circle cx="467.25" cy="26.9" r="2.8" fill="#821519" stroke="#500B0E" stroke-width="0.6"/>
<text x="477.6" y="30.10" class="leg" textLength="25.4" lengthAdjust="spacingAndGlyphs">Insulin</text>
</svg>
</body></html>
